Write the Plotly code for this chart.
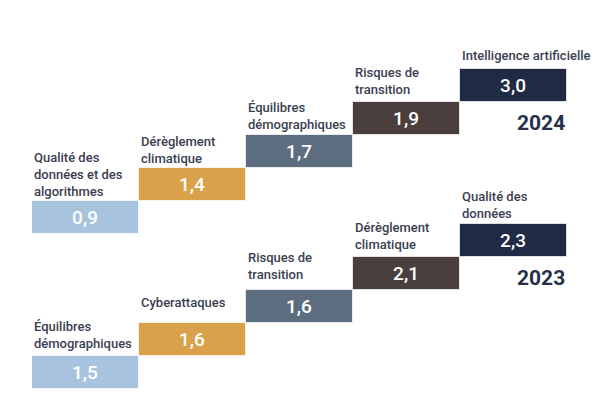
import plotly.graph_objects as go

years = ["2024", "2023"]
labels_2024 = ["Qualité des<br>données et des<br>algorithmes", "Dérèglement<br>climatique",
               "Équilibres<br>démographiques", "Risques de<br>transition", "Intelligence artificielle"]
values_2024 = [0.9, 1.4, 1.7, 1.9, 3.0]
labels_2023 = ["Équilibres<br>démographiques", "Cyberattaques", "Risques de<br>transition",
               "Dérèglement<br>climatique", "Qualité des<br>données"]
values_2023 = [1.5, 1.6, 1.6, 2.1, 2.3]
ranks = [0, 1, 2, 3, 4]

colors = ["#a7c3dd", "#d9a149", "#5d6d80", "#4a3f3d", "#1f2a44"]
label_color = "#3a4050"
year_color = "#263048"
FONT = "Roboto"

# layout/style settings
offsets = {"2024": 4.7, "2023": 0.0}          # vertical offset of each staircase (step units)
label_lift = {"2024": [0, 0, 1, 3, 4],        # extra pixel lift of each label
              "2023": [3, 11, 6, 3, 1]}
series = {"2024": (labels_2024, values_2024), "2023": (labels_2023, values_2023)}

fig = go.Figure()
annotations = []
for yr in years:
    labs, vals = series[yr]
    off = offsets[yr]
    fig.add_trace(go.Bar(
        x=ranks,
        y=[1] * len(ranks),
        base=[off + r for r in ranks],
        width=1,
        marker=dict(color=colors, line=dict(color="rgba(255,255,255,0.7)", width=1)),
        text=[f"{v:.1f}".replace(".", ",") for v in vals],
        textposition="inside",
        insidetextanchor="middle",
        textangle=0,
        constraintext="none",
        textfont=dict(family=FONT, size=19, color="white", weight=500),
        hoverinfo="skip",
        showlegend=False,
    ))
    for r, lab, lift in zip(ranks, labs, label_lift[yr]):
        annotations.append(dict(
            x=r - 0.5, y=off + r + 1, xref="x", yref="y",
            xanchor="left", yanchor="bottom", yshift=lift,
            text=lab, showarrow=False, align="left",
            font=dict(family=FONT, size=13, color=label_color, weight=500),
        ))
    annotations.append(dict(
        x=4.5, y=off + 3.35, xref="x", yref="y",
        xanchor="right", yanchor="middle",
        text=f"<b>{yr}</b>", showarrow=False,
        font=dict(family=FONT, size=21, color=year_color),
    ))

fig.update_layout(
    width=600, height=400,
    margin=dict(l=24, r=41, t=0, b=0),
    paper_bgcolor="white", plot_bgcolor="white",
    bargap=0, barmode="overlay",
    xaxis=dict(range=[-0.5, 4.5], visible=False, fixedrange=True),
    yaxis=dict(range=[-0.576, 11.545], visible=False, fixedrange=True),
    annotations=annotations,
    uniformtext=dict(mode=False),
)

fig.write_html("out.html")
